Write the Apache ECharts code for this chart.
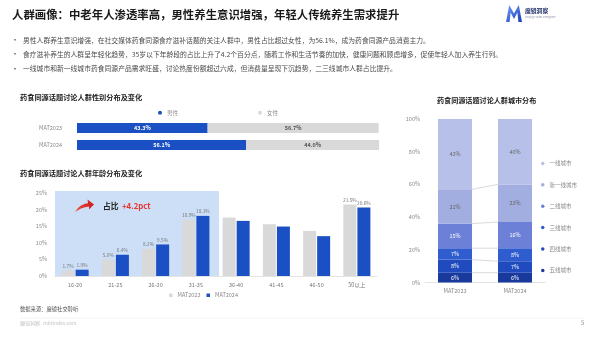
<!DOCTYPE html>
<html><head><meta charset="utf-8">
<script src="https://cdn.jsdelivr.net/npm/echarts@6/dist/echarts.min.js"></script>
<style>html,body{margin:0;padding:0;background:#fff}#c{width:600px;height:342px}</style>
</head><body><div id="c"></div>
<script>
// ---- data ----
const genderCats = ['MAT2023', 'MAT2024'];
const genderNames = ['男性', '女性'];
const maleShare = [43.3, 56.1];
const femaleShare = [56.7, 44.0];

const ageCats = ['16-20', '21-25', '26-30', '31-35', '36-40', '41-45', '46-50', '50以上'];
const ageNames = ['MAT2023', 'MAT2024'];
const age2023 = [1.7, 5.0, 8.2, 16.9, 17.6, 15.6, 13.6, 21.5];
const age2024 = [1.9, 6.4, 9.5, 18.1, 16.6, 14.9, 12.0, 20.6];
const ageLabelled = [0, 1, 2, 3, 7];

const cityCats = ['MAT2023', 'MAT2024'];
const cityNames = ['一线城市', '新一线城市', '二线城市', '三线城市', '四线城市', '五线城市'];
const city2023 = [43, 21, 15, 7, 8, 6];
const city2024 = [40, 23, 16, 8, 7, 6];

const ageTicks = [0, 5, 10, 15, 20, 25];
const cityTicks = [0, 20, 40, 60, 80, 100];

const titleText = '人群画像：中老年人渗透率高，男性养生意识增强，年轻人传统养生需求提升';
const bullets = [
  '男性人群养生意识增强，在社交媒体药食同源食疗滋补话题的关注人群中，男性占比超过女性，为56.1%，成为药食同源产品消费主力。',
  '食疗滋补养生的人群呈年轻化趋势，35岁以下年龄段的占比上升了4.2个百分点，随着工作和生活节奏的加快，健康问题和顾虑增多，促使年轻人加入养生行列。',
  '一线城市和新一线城市药食同源产品需求旺盛，讨论热度份额超过六成，但消费量呈现下沉趋势，二三线城市人群占比提升。'
];

// ---- styles ----
const FONT = '"Noto Sans CJK SC", "Noto Sans", sans-serif';
const BLUE = '#1b4fc4';
const GREY = '#d9d9d9';
const cityColors = ['#b7c0e8', '#a2ade0', '#6b80d6', '#2f5dd0', '#1f4bbf', '#193a9c'];
const CITY_BAR_W = 34;

const chart = echarts.init(document.getElementById('c'), null, {renderer: 'canvas'});

const citySeries = [];
for (let i = cityNames.length - 1; i >= 0; i--) {
  citySeries.push({
    name: cityNames[i], type: 'bar', stack: 'city', xAxisIndex: 2, yAxisIndex: 2,
    barWidth: CITY_BAR_W,
    itemStyle: {color: cityColors[i]},
    label: {show: true, position: 'inside', fontSize: 5.5, color: i < 2 ? '#666' : '#fff',
      formatter: p => p.value + '%'},
    data: [city2023[i], city2024[i]]
  });
}
const connectors = [];
let c23 = 0, c24 = 0;
for (let i = cityNames.length - 1; i >= 1; i--) {
  c23 += city2023[i]; c24 += city2024[i];
  connectors.push([0, c23, c24]);
}

function txt(x, y, text, font, fill, extra) {
  return Object.assign({type: 'text', x: x, y: y, style: {text: text, font: font, fill: fill, textVerticalAlign: 'middle', verticalAlign: 'middle'}}, extra || {});
}

const texts = [];
texts.push(txt(12, 15, titleText, 'bold 11.4px ' + FONT, '#1a1a1a'));
bullets.forEach((b, i) => {
  const y = 40 + i * 14.3;
  texts.push(txt(11, y, '•', '8px ' + FONT, '#555'));
  texts.push(txt(23, y, b, '6.8px ' + FONT, '#4a4a4a'));
});
texts.push(txt(20, 97, '药食同源话题讨论人群性别分布及变化', 'bold 7.2px ' + FONT, '#222'));
texts.push(txt(20, 173, '药食同源话题讨论人群年龄分布及变化', 'bold 7.2px ' + FONT, '#222'));
texts.push(txt(437, 100, '药食同源话题讨论人群城市分布', 'bold 7.1px ' + FONT, '#222'));
texts.push(txt(20, 309, '数据来源：魔镜社交聆听', '5.3px ' + FONT, '#555'));
texts.push({type: 'line', shape: {x1: 20, y1: 318, x2: 585, y2: 318}, style: {stroke: '#f0f0f0', lineWidth: 0.8}});
texts.push(txt(20, 323.5, '魔镜洞察   mktindex.com', '5px ' + FONT, '#c4c4c4'));
texts.push(txt(581, 322.5, '5', '6px ' + FONT, '#999'));
// logo
texts.push({type: 'polygon', x: 506, y: 5,
  shape: {points: [[0, 17], [3.2, 0], [8, 8.5], [12.8, 0], [16, 17], [12.4, 17], [11.4, 7.5], [8, 14], [4.6, 7.5], [3.6, 17]]},
  style: {fill: new echarts.graphic.LinearGradient(0, 0, 1, 1, [{offset: 0, color: '#6ea0ff'}, {offset: 1, color: '#1a3db5'}])}});
texts.push(txt(525, 11, '魔镜洞察', 'bold 5.8px ' + FONT, '#1e2d66'));
texts.push(txt(525, 17.5, 'Moojing Market Intelligence', '2.4px ' + FONT, '#8890a8'));
// +4.2pct annotation
texts.push({type: 'polygon', z: 10, x: 75, y: 198,
  shape: {points: [[0, 14], [3, 10], [6, 7.5], [10, 5.8], [13, 5.2], [12.5, 1.5], [19, 6.5], [14, 11.5], [14, 8.6], [10, 9.2], [6, 10.6], [3, 12.2]]},
  style: {fill: new echarts.graphic.LinearGradient(0, 1, 1, 0, [{offset: 0, color: '#f2523f'}, {offset: 1, color: '#c4161c'}])}});
texts.push(txt(103, 206, '占比', 'bold 7.8px ' + FONT, '#222', {z: 10}));
texts.push(txt(122, 206, '+4.2pct', 'bold 7.8px ' + FONT, '#e8322d', {z: 10}));

const axisLabelStyle = {fontSize: 5.5, color: '#888', fontFamily: FONT};

chart.setOption({
  animation: false,
  textStyle: {fontFamily: FONT},
  grid: [
    {left: 77, top: 119.5, width: 302, height: 34},
    {left: 55, top: 193, width: 322, height: 83},
    {left: 425, top: 119, width: 120, height: 163.5}
  ],
  legend: [
    {data: genderNames, left: 158, top: 110, padding: 0, itemGap: 80, itemWidth: 4, itemHeight: 4, icon: 'circle',
      selectedMode: false, textStyle: {fontSize: 5.5, color: '#888'}},
    {data: ageNames, left: 169, top: 292.5, padding: 0, itemGap: 6, itemWidth: 3.5, itemHeight: 3.5, icon: 'rect',
      selectedMode: false, textStyle: {fontSize: 5.5, color: '#888'}},
    {data: cityNames, orient: 'vertical', left: 541, top: 160, padding: 0, itemGap: 14.6, itemWidth: 3.5, itemHeight: 3.5, icon: 'circle',
      selectedMode: false, textStyle: {fontSize: 5.5, color: '#888', lineHeight: 6.8}}
  ],
  xAxis: [
    {gridIndex: 0, type: 'value', min: 0, max: v => v.max, show: false},
    {gridIndex: 1, type: 'category', data: ageCats, axisTick: {show: false},
      axisLine: {lineStyle: {color: '#e3e3e3'}}, axisLabel: {fontSize: 5.5, color: '#777', margin: 6}},
    {gridIndex: 2, type: 'category', data: cityCats, axisTick: {show: false},
      axisLine: {lineStyle: {color: '#e3e3e3'}}, axisLabel: Object.assign({}, axisLabelStyle, {margin: 6})}
  ],
  yAxis: [
    {gridIndex: 0, type: 'category', data: genderCats, inverse: true, axisLine: {show: false}, axisTick: {show: false},
      axisLabel: Object.assign({}, axisLabelStyle, {margin: 15})},
    {gridIndex: 1, type: 'value', min: ageTicks[0], max: ageTicks[ageTicks.length - 1], interval: ageTicks[1] - ageTicks[0],
      splitLine: {show: false}, axisLabel: Object.assign({}, axisLabelStyle, {margin: 8, formatter: '{value}%'})},
    {gridIndex: 2, type: 'value', min: cityTicks[0], max: cityTicks[cityTicks.length - 1], interval: cityTicks[1] - cityTicks[0],
      splitLine: {show: false}, axisLabel: Object.assign({}, axisLabelStyle, {margin: 5, formatter: '{value}%'})}
  ],
  series: [
    {name: genderNames[0], type: 'bar', stack: 'g', xAxisIndex: 0, yAxisIndex: 0, barWidth: 10,
      itemStyle: {color: BLUE}, data: maleShare,
      label: {show: true, position: 'inside', fontSize: 5.5, fontWeight: 'bold', color: '#fff', formatter: p => p.value.toFixed(1) + '%'}},
    {name: genderNames[1], type: 'bar', stack: 'g', xAxisIndex: 0, yAxisIndex: 0, barWidth: 10,
      itemStyle: {color: GREY}, data: femaleShare,
      label: {show: true, position: 'inside', fontSize: 5.5, fontWeight: 'bold', color: '#555', formatter: p => p.value.toFixed(1) + '%'}},
    {name: ageNames[0], type: 'bar', xAxisIndex: 1, yAxisIndex: 1, barWidth: 13, barGap: '8%',
      itemStyle: {color: GREY}, data: age2023,
      label: {show: true, position: 'top', distance: 2, fontSize: 4.8, color: '#777',
        formatter: p => ageLabelled.includes(p.dataIndex) ? p.value.toFixed(1) + '%' : ''}},
    {name: ageNames[1], type: 'bar', xAxisIndex: 1, yAxisIndex: 1, barWidth: 13, barGap: '8%',
      itemStyle: {color: BLUE}, data: age2024,
      label: {show: true, position: 'top', distance: 2, fontSize: 4.8, color: '#777',
        formatter: p => ageLabelled.includes(p.dataIndex) ? p.value.toFixed(1) + '%' : ''}},
    ...citySeries,
    {type: 'custom', xAxisIndex: 2, yAxisIndex: 2, encode: {x: 0, y: 1}, data: connectors, silent: true,
      renderItem: (params, api) => {
        const p1 = api.coord([0, api.value(1)]);
        const p2 = api.coord([1, api.value(2)]);
        return {type: 'line', shape: {x1: p1[0] + CITY_BAR_W / 2, y1: p1[1], x2: p2[0] - CITY_BAR_W / 2, y2: p2[1]},
          style: {stroke: '#d0d0d0', lineWidth: 0.8}};
      }}
  ]
});

// highlight area behind the under-35 age groups
const x0 = chart.convertToPixel({xAxisIndex: 1}, ageCats[0]);
const x3 = chart.convertToPixel({xAxisIndex: 1}, ageCats[3]);
const band = (x3 - x0) / 3;
const yTop = chart.convertToPixel({yAxisIndex: 1}, ageTicks[ageTicks.length - 1]);
const yBot = chart.convertToPixel({yAxisIndex: 1}, 0);
texts.unshift({type: 'rect', z: -10, shape: {x: x0 - band / 2, y: yTop - 2, width: band * 4 + 3, height: yBot - yTop + 2},
  style: {fill: '#cddff7'}});
chart.setOption({graphic: {elements: texts}});
</script></body></html>
